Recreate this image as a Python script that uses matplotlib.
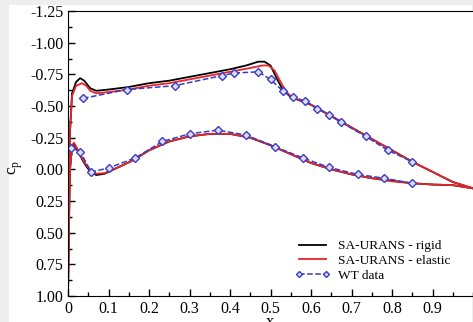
import numpy as np
import matplotlib
matplotlib.use("Agg")
import matplotlib.pyplot as plt
from matplotlib.patches import Rectangle
from matplotlib.ticker import MultipleLocator, FixedLocator

plt.rcParams["font.family"] = "Liberation Serif"
plt.rcParams["mathtext.fontset"] = "custom"
plt.rcParams["mathtext.rm"] = "Liberation Serif"
plt.rcParams["axes.unicode_minus"] = False

# --- SA-URANS rigid, suction and pressure sides
x_up_rigid = [0, 0.002, 0.005, 0.01, 0.02, 0.03, 0.04, 0.055, 0.07, 0.1, 0.15, 0.2, 0.25, 0.3,
              0.35, 0.4, 0.44, 0.47, 0.485, 0.5, 0.515, 0.53, 0.55, 0.6, 0.65, 0.7, 0.75, 0.8,
              0.85, 0.9, 0.95, 1.0]
cp_up_rigid = [1.0, 0.3, -0.3, -0.6, -0.69, -0.72, -0.70, -0.64, -0.62, -0.63, -0.65, -0.68,
               -0.70, -0.73, -0.76, -0.79, -0.82, -0.85, -0.85, -0.82, -0.72, -0.63, -0.57,
               -0.51, -0.42, -0.33, -0.24, -0.15, -0.06, 0.02, 0.10, 0.15]
x_lo_rigid = [0, 0.002, 0.005, 0.01, 0.015, 0.025, 0.04, 0.055, 0.07, 0.09, 0.12, 0.16, 0.2,
              0.25, 0.3, 0.35, 0.4, 0.45, 0.5, 0.55, 0.6, 0.65, 0.7, 0.75, 0.8, 0.85, 0.9,
              0.95, 1.0]
cp_lo_rigid = [1.0, 0.5, 0.0, -0.18, -0.20, -0.14, -0.05, 0.02, 0.045, 0.035, -0.01, -0.07,
               -0.15, -0.22, -0.26, -0.28, -0.28, -0.25, -0.19, -0.12, -0.05, 0.0, 0.04, 0.07,
               0.09, 0.11, 0.12, 0.125, 0.15]

# --- SA-URANS elastic
x_up_elastic = [0, 0.002, 0.005, 0.01, 0.02, 0.035, 0.045, 0.055, 0.07, 0.1, 0.15, 0.2, 0.25,
                0.3, 0.35, 0.4, 0.45, 0.48, 0.495, 0.51, 0.53, 0.545, 0.56, 0.6, 0.65, 0.7,
                0.75, 0.8, 0.85, 0.9, 0.95, 1.0]
cp_up_elastic = [1.0, 0.3, -0.3, -0.58, -0.66, -0.68, -0.66, -0.62, -0.60, -0.61, -0.63, -0.66,
                 -0.68, -0.71, -0.74, -0.77, -0.80, -0.82, -0.82, -0.78, -0.66, -0.59, -0.56,
                 -0.51, -0.42, -0.33, -0.24, -0.15, -0.06, 0.02, 0.10, 0.15]
x_lo_elastic = x_lo_rigid
cp_lo_elastic = [1.0, 0.5, 0.0, -0.19, -0.21, -0.15, -0.06, 0.01, 0.035, 0.03, -0.01, -0.07,
                 -0.15, -0.22, -0.26, -0.28, -0.28, -0.25, -0.19, -0.12, -0.05, 0.0, 0.04,
                 0.07, 0.095, 0.11, 0.12, 0.125, 0.15]

# --- wind tunnel measurements
x_wt_up = [0.037, 0.145, 0.263, 0.38, 0.41, 0.47, 0.50, 0.53, 0.556, 0.585, 0.615, 0.645,
           0.675, 0.735, 0.79, 0.85]
cp_wt_up = [-0.56, -0.63, -0.66, -0.74, -0.76, -0.77, -0.71, -0.62, -0.57, -0.54, -0.48,
            -0.43, -0.37, -0.26, -0.15, -0.06]
x_wt_lo = [0.007, 0.03, 0.057, 0.10, 0.166, 0.233, 0.30, 0.37, 0.44, 0.51, 0.58, 0.645,
           0.715, 0.78, 0.85]
cp_wt_lo = [-0.17, -0.14, 0.02, -0.01, -0.09, -0.22, -0.28, -0.31, -0.27, -0.18, -0.09,
            -0.015, 0.04, 0.07, 0.11]

y_ticks = [-1.25, -1.0, -0.75, -0.5, -0.25, 0.0, 0.25, 0.5, 0.75, 1.0]
x_ticks = [0, 0.1, 0.2, 0.3, 0.4, 0.5, 0.6, 0.7, 0.8, 0.9]
x_ticklabels = ["0", "0.1", "0.2", "0.3", "0.4", "0.5", "0.6", "0.7", "0.8", "0.9"]

fig = plt.figure(figsize=(4.73, 3.22), dpi=100, facecolor="#eeeeee")
# white page area, grey strip on the left and top
bg = Rectangle((9 / 473, 0), 463 / 473, 317 / 322, transform=fig.transFigure,
               facecolor="white", edgecolor="none")
fig.add_artist(bg)
bg.set_zorder(-10)
ax = fig.add_axes([68 / 473, 26 / 322, 405 / 473, 285 / 322])
ax.set_zorder(5)
ax.set_facecolor("white")

red = "#e8232b"
blue = "#3b3bc4"
ax.plot(x_up_rigid, cp_up_rigid, color="black", lw=1.3, label="SA-URANS - rigid")
ax.plot(x_lo_rigid, cp_lo_rigid, color="black", lw=1.3)
ax.plot(x_up_elastic, cp_up_elastic, color=red, lw=1.3, label="SA-URANS - elastic")
ax.plot(x_lo_elastic, cp_lo_elastic, color=red, lw=1.3)
wt_style = dict(color=blue, ls="--", lw=1.1, marker="D", ms=3.8, mfc="#dcdcf5", mec=blue, mew=1.0)
ax.plot(x_wt_up, cp_wt_up, label="WT data", **wt_style)
ax.plot(x_wt_lo, cp_wt_lo, **wt_style)

ax.set_xlim(0, 1.0)
ax.set_ylim(1.0, -1.25)
ax.yaxis.set_major_locator(FixedLocator(y_ticks))
ax.yaxis.set_minor_locator(MultipleLocator(0.125))
ax.set_yticklabels(["%.2f" % v for v in y_ticks])
ax.set_xticks(x_ticks)
ax.set_xticklabels(x_ticklabels)
ax.xaxis.set_minor_locator(MultipleLocator(0.05))
ax.tick_params(which="both", direction="in", labelsize=11.5, pad=3.5)
ax.tick_params(which="major", length=5, width=1)
ax.tick_params(which="minor", length=3, width=1)
ax.spines["right"].set_visible(False)
ax.tick_params(top=False, right=False, which="both")

ax.set_xlabel("x", fontsize=12, labelpad=-2)
ax.set_ylabel(r"c$_\mathrm{p}$", fontsize=12)
ax.yaxis.set_label_coords(-0.105, 0.45)

ax.legend(loc="upper left", bbox_to_anchor=(0.548, 0.215), frameon=False, fontsize=9.6,
          handlelength=2.6, labelspacing=0.18, handletextpad=0.6, borderaxespad=0,
          numpoints=2, markerscale=0.8)

fig.text(387 / 473, 1 - 70 / 322, "58%", fontsize=27, fontweight="bold", color="#2b3766",
         family="Liberation Sans", ha="center", va="center")

fig.savefig("out.png", dpi=100, facecolor=fig.get_facecolor())
